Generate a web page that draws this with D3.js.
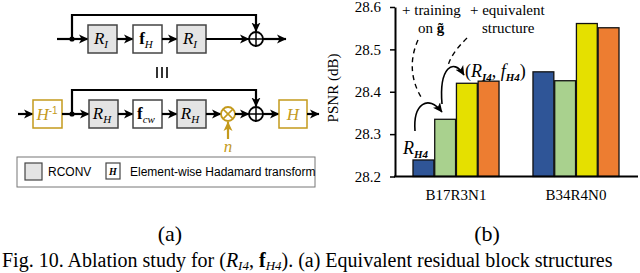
<!DOCTYPE html>
<html>
<head>
<meta charset="utf-8">
<script src="https://cdn.jsdelivr.net/npm/d3@7"></script>
<style>
body { margin: 0; background: #fff; }
svg { display: block; }
text { font-family: "Liberation Serif", "Times New Roman", serif; fill: #000; }
.sans { font-family: "Liberation Sans", Arial, sans-serif; }
</style>
</head>
<body>
<svg width="640" height="273"></svg>
<script>
// chart data
var groups = ["B17R3N1", "B34R4N0"];
var series = ["RH4", "+ training on g", "+ equivalent structure", "(RI4, fH4)"];
var colors = ["#2f5597", "#a9d18e", "#e5e000", "#ed7d31"];
var valuesRH4 = [28.239, 28.447];
var valuesTrain = [28.335, 28.426];
var valuesEquiv = [28.420, 28.561];
var valuesFinal = [28.425, 28.551];
var yTicks = [28.2, 28.3, 28.4, 28.5, 28.6];

var gold = "#c49a1c";
var svg = d3.select("svg");

// markers
var defs = svg.append("defs");
function marker(id, col) {
  defs.append("marker")
    .attr("id", id)
    .attr("markerUnits", "userSpaceOnUse")
    .attr("viewBox", "0 0 10 10")
    .attr("refX", 9).attr("refY", 5)
    .attr("markerWidth", 10).attr("markerHeight", 10)
    .attr("orient", "auto")
    .append("path")
    .attr("d", "M0,0.5 L9.5,5 L0,9.5 L2.5,5 Z")
    .attr("fill", col);
}
marker("arr", "#000");
marker("arrG", gold);

// ---------- (a) block diagram ----------
var dg = svg.append("g");

function arrow(x1, y1, x2, y2, col) {
  dg.append("line")
    .attr("x1", x1).attr("y1", y1).attr("x2", x2).attr("y2", y2)
    .attr("stroke", col || "#000").attr("stroke-width", 2.2)
    .attr("marker-end", col ? "url(#arrG)" : "url(#arr)");
}

function box(x, y, w, h, fill, stroke) {
  dg.append("rect")
    .attr("x", x).attr("y", y).attr("width", w).attr("height", h)
    .attr("fill", fill).attr("stroke", stroke).attr("stroke-width", 1.5);
}

function label(x, y, main, sub, boldMain, col) {
  var t = dg.append("text").attr("x", x).attr("y", y)
    .attr("text-anchor", "middle").style("fill", col || "#000");
  t.append("tspan").text(main)
    .attr("font-size", 17)
    .attr("font-style", boldMain ? "normal" : "italic")
    .attr("font-weight", boldMain ? "bold" : "normal");
  if (sub) {
    t.append("tspan").text(sub).attr("dy", 4)
      .attr("font-size", 11).attr("font-style", "italic");
  }
}

function oplus(cx, cy, col, times) {
  var c = col || "#000";
  dg.append("circle").attr("cx", cx).attr("cy", cy).attr("r", 7)
    .attr("fill", "#fff").attr("stroke", c).attr("stroke-width", 1.8);
  var d = times ? 4.9 : 7;
  var a = times ? [[-d, -d, d, d], [-d, d, d, -d]] : [[-d, 0, d, 0], [0, -d, 0, d]];
  a.forEach(function(s) {
    dg.append("line")
      .attr("x1", cx + s[0]).attr("y1", cy + s[1])
      .attr("x2", cx + s[2]).attr("y2", cy + s[3])
      .attr("stroke", c).attr("stroke-width", 1.5);
  });
}

function skip(x1, y, yTop, x2) {
  dg.append("path")
    .attr("d", "M" + x1 + "," + y + "V" + yTop + "H" + x2 + "V" + (y - 7.5))
    .attr("fill", "none").attr("stroke", "#000").attr("stroke-width", 2.2)
    .attr("marker-end", "url(#arr)");
  dg.append("circle").attr("cx", x1).attr("cy", y).attr("r", 2.6);
}

// top row
var ty = 39;
skip(72, ty, 15, 256);
arrow(57, ty, 88, ty);
box(88, 25, 29, 28, "#e4e4e4", "#444");
label(101, 44, "R", "I");
arrow(117, ty, 133, ty);
box(133, 25, 29, 28, "#fff", "#444");
label(146, 44, "f", "H", true);
arrow(162, ty, 177, ty);
box(177, 25, 29, 28, "#e4e4e4", "#444");
label(190, 44, "R", "I");
arrow(206, ty, 249, ty);
oplus(256, ty);
arrow(263, ty, 286, ty);

// equivalence
[157, 162, 167].forEach(function(x) {
  dg.append("line").attr("x1", x).attr("x2", x).attr("y1", 67).attr("y2", 78)
    .attr("stroke", "#000").attr("stroke-width", 1.6);
});

// bottom row
var by = 114;
skip(72, by, 90, 256);
arrow(18, by, 33, by);
box(33, 100, 29, 28, "#fff", gold);
var hinv = dg.append("text").attr("x", 47).attr("y", 120).attr("text-anchor", "middle").style("fill", gold);
hinv.append("tspan").text("H").attr("font-size", 17).attr("font-style", "italic");
hinv.append("tspan").text("-1").attr("dy", -6).attr("font-size", 10).attr("class", "sans");
arrow(62, by, 89, by);
box(89, 100, 29, 28, "#e4e4e4", "#444");
label(102, 119, "R", "H");
arrow(118, by, 133, by);
box(133, 100, 29, 28, "#fff", "#444");
label(146, 119, "f", "cw", true);
arrow(162, by, 177, by);
box(177, 100, 29, 28, "#e4e4e4", "#444");
label(190, 119, "R", "H");
arrow(206, by, 221, by);
oplus(228, by, gold, true);
arrow(235, by, 249, by);
oplus(256, by);
arrow(263, by, 279, by);
box(279, 100, 28, 28, "#fff", gold);
dg.append("text").attr("x", 293).attr("y", 120).attr("text-anchor", "middle")
  .attr("font-size", 17).attr("font-style", "italic").style("fill", gold).text("H");
arrow(307, by, 319, by);
arrow(228, 139, 228, 122, gold);
dg.append("text").attr("x", 228).attr("y", 152).attr("text-anchor", "middle")
  .attr("font-size", 17).attr("font-style", "italic").style("fill", gold).text("n");

// legend
dg.append("rect").attr("x", 17).attr("y", 157).attr("width", 298).attr("height", 30)
  .attr("fill", "#fff").attr("stroke", "#777").attr("stroke-width", 1);
dg.append("rect").attr("x", 25).attr("y", 163).attr("width", 17).attr("height", 17)
  .attr("fill", "#e4e4e4").attr("stroke", "#444").attr("stroke-width", 1.2);
dg.append("text").attr("class", "sans").attr("x", 48).attr("y", 176)
  .attr("font-size", 12).text("RCONV");
dg.append("rect").attr("x", 106).attr("y", 163).attr("width", 14).attr("height", 16)
  .attr("fill", "#fff").attr("stroke", "#444").attr("stroke-width", 1.2);
dg.append("text").attr("x", 113).attr("y", 175).attr("text-anchor", "middle")
  .attr("font-size", 10).attr("font-style", "italic").attr("font-weight", "bold").text("H");
dg.append("text").attr("class", "sans").attr("x", 130).attr("y", 176)
  .attr("font-size", 12).text("Element-wise Hadamard transform");

// ---------- (b) bar chart ----------
var rows = groups.map(function(g, i) {
  return { group: g, vals: [valuesRH4[i], valuesTrain[i], valuesEquiv[i], valuesFinal[i]] };
});

var y = d3.scaleLinear().domain([28.2, 28.6]).range([176.5, 7]);
var x0 = d3.scaleBand().domain(groups).range([395, 637]).paddingInner(0.283).paddingOuter(0.15);
var x1 = d3.scaleBand().domain(series).range([0, x0.bandwidth()]).paddingInner(0.04);

var bars = svg.append("g").selectAll("g")
  .data(rows).enter().append("g")
  .attr("transform", function(d) { return "translate(" + x0(d.group) + ",0)"; });

bars.selectAll("rect")
  .data(function(d) { return d.vals.map(function(v, k) { return { s: series[k], v: v, c: colors[k] }; }); })
  .enter().append("rect")
  .attr("x", function(d) { return x1(d.s); })
  .attr("y", function(d) { return y(d.v); })
  .attr("width", x1.bandwidth())
  .attr("height", function(d) { return y(28.2) - y(d.v); })
  .attr("fill", function(d) { return d.c; })
  .attr("stroke", "#111").attr("stroke-width", 1.3);

var yAxis = svg.append("g").attr("transform", "translate(395,0)")
  .call(d3.axisLeft(y).tickValues(yTicks).tickSize(5).tickSizeOuter(0)
    .tickPadding(9).tickFormat(d3.format(".1f")));
yAxis.attr("font-family", null).attr("font-size", null);
yAxis.select(".domain").attr("stroke-width", 2);
yAxis.selectAll(".tick line").attr("stroke-width", 1.5);
yAxis.selectAll("text")
  .style("font-family", "'Liberation Serif', 'Times New Roman', serif")
  .style("font-size", "15px").style("fill", "#000");

svg.append("line").attr("x1", 394).attr("x2", 638)
  .attr("y1", y(28.2)).attr("y2", y(28.2))
  .attr("stroke", "#000").attr("stroke-width", 2.2);

svg.append("g").selectAll("text").data(groups).enter().append("text")
  .attr("x", function(d) { return x0(d) + x0.bandwidth() / 2; })
  .attr("y", 200).attr("text-anchor", "middle").attr("font-size", 15)
  .text(function(d) { return d; });

svg.append("text")
  .attr("transform", "translate(338," + 88 + ") rotate(-90)")
  .attr("text-anchor", "middle").attr("font-size", 15).text("PSNR (dB)");

// annotations
var ann = svg.append("g");
ann.append("text").attr("x", 402).attr("y", 15).attr("font-size", 15).text("+ training");
var on = ann.append("text").attr("x", 418).attr("y", 33).attr("font-size", 15);
on.append("tspan").text("on ");
on.append("tspan").text("g\u0303").attr("font-weight", "bold");
ann.append("text").attr("x", 470).attr("y", 15).attr("font-size", 15).text("+ equivalent");
ann.append("text").attr("x", 482).attr("y", 33).attr("font-size", 15).text("structure");

var bx = x0(groups[0]);
var rh = ann.append("text").attr("x", bx - 10).attr("y", y(valuesRH4[0]) - 6);
rh.append("tspan").text("R").attr("font-size", 18).attr("font-style", "italic");
rh.append("tspan").text("H4").attr("dy", 4).attr("font-size", 11).attr("font-style", "italic").attr("font-weight", "bold");

var fl = ann.append("text").attr("x", 465).attr("y", 77);
fl.append("tspan").text("(").attr("font-size", 18);
fl.append("tspan").text("R").attr("font-size", 18).attr("font-style", "italic");
fl.append("tspan").text("I4").attr("dy", 4).attr("font-size", 11).attr("font-style", "italic").attr("font-weight", "bold");
fl.append("tspan").text(", ").attr("dy", -4).attr("font-size", 18);
fl.append("tspan").text("f").attr("font-size", 18).attr("font-style", "italic");
fl.append("tspan").text("H4").attr("dy", 4).attr("font-size", 11).attr("font-style", "italic").attr("font-weight", "bold");
fl.append("tspan").text(")").attr("dy", -4).attr("font-size", 18);

ann.append("path").attr("d", "M418,40 C409,60 411,80 421,97")
  .attr("fill", "none").attr("stroke", "#000").attr("stroke-width", 1.4).attr("stroke-dasharray", "5,4");
ann.append("path").attr("d", "M467,38 C457,48 450,57 448,66")
  .attr("fill", "none").attr("stroke", "#000").attr("stroke-width", 1.4).attr("stroke-dasharray", "5,4");
ann.append("path").attr("d", "M415,131 C413,104 428,94 442,112")
  .attr("fill", "none").attr("stroke", "#000").attr("stroke-width", 1.6).attr("marker-end", "url(#arr)");
ann.append("path").attr("d", "M442,104 C439,68 453,57 464,75")
  .attr("fill", "none").attr("stroke", "#000").attr("stroke-width", 1.6).attr("marker-end", "url(#arr)");

// sub-captions
svg.append("text").attr("x", 170).attr("y", 241).attr("text-anchor", "middle").attr("font-size", 22).text("(a)");
svg.append("text").attr("x", 487).attr("y", 241).attr("text-anchor", "middle").attr("font-size", 22).text("(b)");

var cap = svg.append("text").attr("x", 2).attr("y", 267).attr("font-size", 20);
cap.append("tspan").text("Fig. 10.  Ablation study for (");
cap.append("tspan").text("R").attr("font-style", "italic");
cap.append("tspan").text("I4").attr("font-size", 13).attr("font-style", "italic").attr("dy", 3);
cap.append("tspan").text(", ").attr("dy", -3);
cap.append("tspan").text("f").attr("font-weight", "bold");
cap.append("tspan").text("H4").attr("font-size", 13).attr("font-style", "italic").attr("dy", 3);
cap.append("tspan").text("). (a) Equivalent residual block structures").attr("dy", -3);
</script>
</body>
</html>
